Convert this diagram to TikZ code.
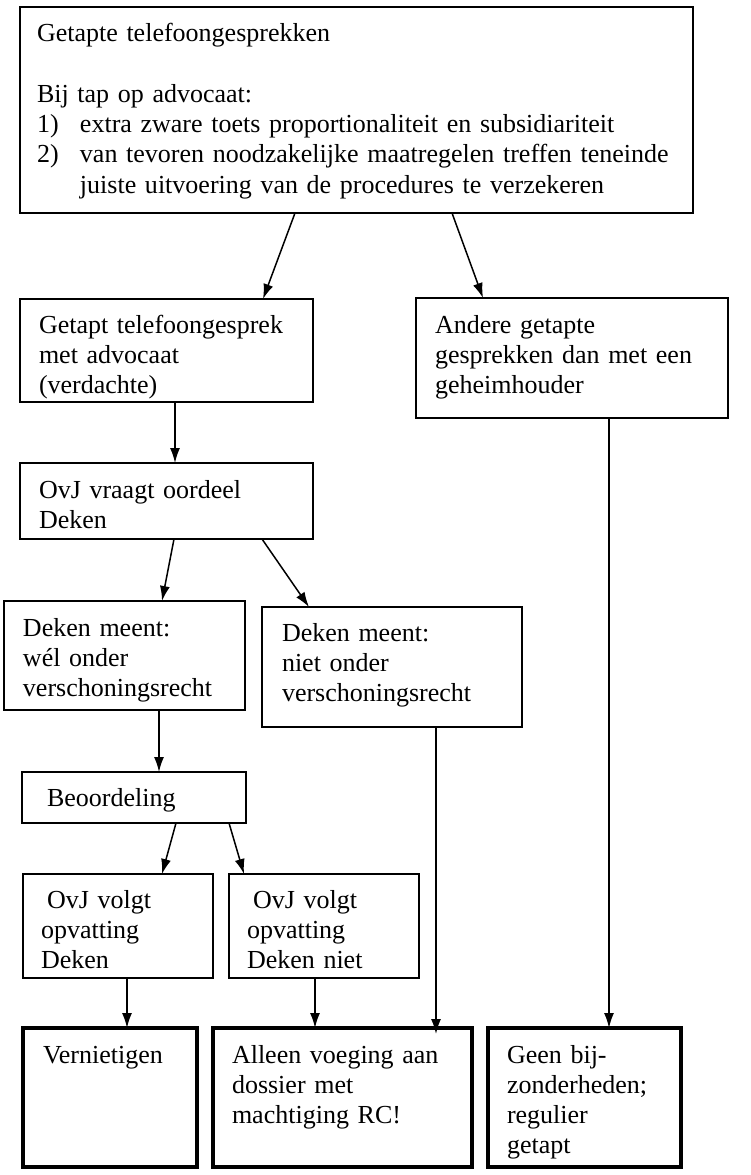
\documentclass[tikz,border=0pt]{standalone}
\usepackage{fontspec}
\setmainfont{Liberation Serif}
\usepackage{tikz}
\usetikzlibrary{arrows.meta, positioning}
\hyphenpenalty=10000
\exhyphenpenalty=10000

\begin{document}
\begin{tikzpicture}[
  box/.style={draw=black, line width=1.6pt, anchor=north west,
              align=left, inner ysep=0pt, outer sep=0pt,
              font=\fontsize{26}{30}\selectfont},
  endbox/.style={box, line width=3.2pt},
  size/.style n args={4}{text width=#1, inner xsep=#2,
                         text height=#3, text depth=#4},
  arrow/.style={-{Latex[length=15pt,width=10pt]}, line width=1.5pt}
]
\useasboundingbox (0,0) rectangle (751pt,-1175pt);

% Top box
\node[box, size={639pt}{17pt}{34pt}{172pt}] (top) at (20pt,-7pt)
      {Getapte telefoongesprekken\\[32pt]
       Bij tap op advocaat:\\
       \makebox[43pt][l]{1)}extra zware toets proportionaliteit en subsidiariteit\\
       \makebox[43pt][l]{2)}van tevoren noodzakelijke maatregelen treffen teneinde\\
       \hspace*{43pt}juiste uitvoering van de procedures te verzekeren};

% Second row
\node[box, size={255pt}{19pt}{34pt}{69pt},
      below right=86pt and 0pt of top.south west] (adv)
      {Getapt telefoongesprek\\met advocaat\\(verdachte)};
\node[box, size={274pt}{19pt}{35pt}{85pt},
      below right=85pt and 396pt of top.south west] (other)
      {Andere getapte\\gesprekken dan met een\\geheimhouder};

% Deken
\node[box, size={255pt}{19pt}{35pt}{41pt},
      below right=61pt and 0pt of adv.south west] (ask)
      {OvJ vraagt oordeel\\Deken};
\node[box, size={203pt}{19pt}{35pt}{74pt},
      below right=62pt and -16pt of ask.south west] (wel)
      {Deken meent:\\wél onder\\verschoningsrecht};
\node[box, size={220pt}{20pt}{34pt}{86pt},
      below right=6pt and 17pt of wel.north east] (niet)
      {Deken meent:\\niet onder\\verschoningsrecht};

% Beoordeling
\node[box, size={174pt}{25pt}{34pt}{17pt},
      below right=62pt and 18pt of wel.south west] (judge)
      {Beoordeling};
\node[box, size={154pt}{18pt}{34pt}{70pt},
      below right=51pt and 1pt of judge.south west] (follow)
      {\hspace*{6pt}OvJ volgt\\opvatting\\Deken};
\node[box, size={154pt}{18pt}{34pt}{70pt},
      below right=0pt and 16pt of follow.north east] (nofollow)
      {\hspace*{6pt}OvJ volgt\\opvatting\\Deken niet};

% Outcomes
\node[endbox, size={134pt}{20pt}{35pt}{104pt},
      below right=50pt and 0pt of follow.south west] (destroy)
      {Vernietigen};
\node[endbox, size={221pt}{19pt}{35pt}{104pt},
      below right=0pt and 16pt of destroy.north east] (rc)
      {Alleen voeging aan\\dossier met\\machtiging RC!};
\node[endbox, size={155pt}{19pt}{35pt}{104pt},
      below right=0pt and 16pt of rc.north east] (regular)
      {Geen bij-\\zonderheden;\\regulier\\getapt};

% Arrows
\draw[arrow] ([xshift=275pt]top.south west) -- ([xshift=243pt]adv.north west);
\draw[arrow] ([xshift=432pt]top.south west) -- ([xshift=67pt]other.north west);
\draw[arrow] ([xshift=155pt]adv.south west) -- ([xshift=155pt]ask.north west);
\draw[arrow] ([xshift=154pt]ask.south west) -- ([xshift=158pt]wel.north west);
\draw[arrow] ([xshift=242pt]ask.south west) -- ([xshift=47pt]niet.north west);
\draw[arrow] ([xshift=155pt]wel.south west) -- ([xshift=137pt]judge.north west);
\draw[arrow] ([xshift=154pt]judge.south west) -- ([xshift=139pt]follow.north west);
\draw[arrow] ([xshift=207pt]judge.south west) -- ([xshift=15pt]nofollow.north west);
\draw[arrow] ([xshift=104pt]follow.south west) -- ([xshift=104pt]destroy.north west);
\draw[arrow] ([xshift=86pt]nofollow.south west) -- ([xshift=102pt]rc.north west);
\draw[arrow] ([xshift=174pt]niet.south west) -- ([xshift=223pt,yshift=-6pt]rc.north west);
\draw[arrow] ([xshift=193pt]other.south west) -- ([xshift=121pt]regular.north west);
\end{tikzpicture}
\end{document}
